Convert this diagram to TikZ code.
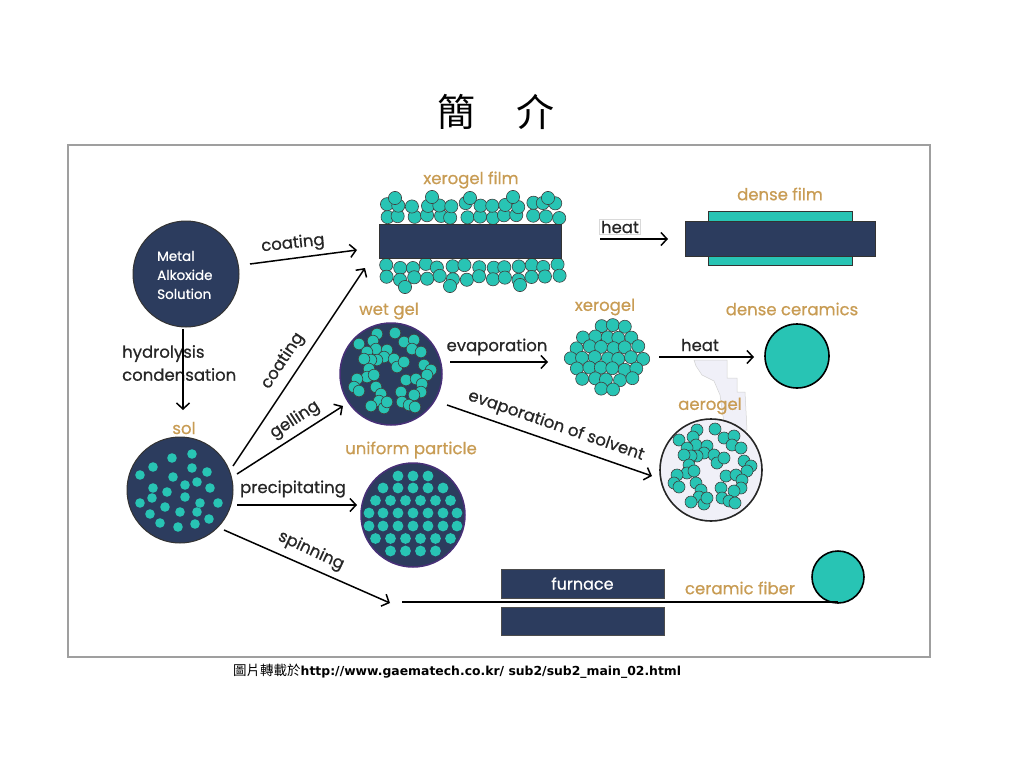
\documentclass[tikz,border=0pt]{standalone}
\usepackage{fontspec}
\setmainfont{Poppins}
\newfontfamily\geo{Poppins}[FakeBold=0.7]
\newfontfamily\cjk{Noto Sans CJK TC}
\newfontfamily\footfont{DejaVu Sans}
\usetikzlibrary{arrows.meta}
\definecolor{navy}{RGB}{44,60,94}
\definecolor{tealc}{RGB}{40,196,180}
\definecolor{labtan}{RGB}{200,156,84}
\definecolor{purp}{RGB}{72,48,120}
\definecolor{lav}{RGB}{240,240,248}
\tikzset{
  arr/.style={line width=1.5pt,-{Straight Barb[length=6pt,width=13pt,line width=1.5pt]}},
  lab/.style={font=\geo\fontsize{16.5}{16.5}\selectfont, text=black!85, inner sep=0pt},
  olab/.style={font=\geo\fontsize{16.5}{16.5}\selectfont, text=labtan, inner sep=0pt},
  pt/.style={fill=tealc, draw=black!75, line width=0.6pt},
  dot/.style={fill=tealc, draw=none},
  bigc/.style={circle, inner sep=0pt, line width=1pt},
}
\begin{document}
\begin{tikzpicture}[x=1pt,y=-1pt]
\useasboundingbox (0,0) rectangle (1024,768);
% title
\node[font=\cjk\fontsize{38}{38}\selectfont] (title) at (496,112) {簡\hspace{42pt}介};
% frame
\draw[gray!75, line width=1.5pt] (68,145) rectangle (930,657);

% ---------- metal alkoxide solution
\node[bigc, draw=black!80, fill=navy, minimum size=106pt] (metal) at (186,274) {};
\node[font=\geo\fontsize{13.5}{19}\selectfont, text=white, align=left, anchor=west, inner sep=0pt] (metaltxt) at (157,275) {Metal\\Alkoxide\\Solution};

% ---------- sol
\node[olab] (sollab) at (184,428) {sol};
\node[bigc, draw=black!80, fill=navy, minimum size=106pt] (sol) at (180,490) {};
\begin{scope}[shift={(180,490)}]
\foreach \a/\b in {-8/-32,12/-36,-40/-15,-27/-23,-7/-13,12/-22,27/-18,-27/-2,-13/2,5/-5,17/-8,30/-2,-40/13,-28/8,-15/17,5/7,20/13,38/13,-30/24,0/22,17/22,29/29,-20/33,-2/37,15/34}
  \fill[dot] (\a,\b) circle[radius=4.8pt];
\end{scope}

% ---------- xerogel film
\node[olab] (xflab) at (471,180) {xerogel film};
\pgfmathsetseed{11}
\foreach \i in {0,...,13} {
  \foreach \yy in {217,205,266,278} {
    \pgfmathsetmacro\px{386+\i*13.2+2.5*rand}
    \pgfmathsetmacro\py{\yy+2.5*rand}
    \draw[pt] (\px,\py) circle[radius=6.6pt];
  }
}
\foreach \a/\b in {432/197,470/198,513/197,548/198,395/198,450/286,405/287,520/285} \draw[pt] (\a,\b) circle[radius=6.6pt];
\node[draw=black!80, fill=navy, minimum width=182pt, minimum height=34pt, inner sep=0pt, line width=0.8pt] (sub) at (470,241) {};

% ---------- dense film
\node[olab] (dflab) at (780,194) {dense film};
\node[draw=black!80, fill=tealc, minimum width=144pt, minimum height=54pt, inner sep=0pt, line width=0.8pt] (dfteal) at (780,238) {};
\node[draw=black!80, fill=navy, minimum width=190pt, minimum height=35pt, inner sep=0pt, line width=0.8pt] (dfnavy) at (780,238.5) {};

% ---------- wet gel
\node[olab] (wglab) at (389,311) {wet gel};
\node[bigc, draw=purp, line width=1.5pt, fill=navy, minimum size=102pt] (wetgel) at (391,374) {};
\begin{scope}[shift={(391,374)}]
\foreach \a/\b in {-14/-40,4/-41,-32/-30,-18/-33,-15/-25,13/-32,23/-34,21/-25,30/-22,-24/-22,-4/-24,-7/-17,-14/-14,-20/-14,-27/-15,3/-15,6/-7,13/-12,33/-9,40/-4,36/1,-22/-5,-24/3,-17/1,-34/5,-37/13,-32/17,-15/13,-10/20,-12/27,15/6,25/5,31/10,30/18,23/21,10/18,11/28,18/31,24/33,-20/32,-7/34,-4/28}
  \draw[pt] (\a,\b) circle[radius=5.8pt];
\end{scope}

% ---------- xerogel
\node[olab] (xglab) at (605,307) {xerogel};
\begin{scope}[shift={(607,358)}]
\pgfmathsetseed{5}
\foreach \r in {-4,...,4} {
  \foreach \c in {-4,...,4} {
    \pgfmathsetmacro\px{(\c+0.5*abs(mod(\r,2)))*12.2+1.2*rand}
    \pgfmathsetmacro\py{\r*10.6+1.2*rand}
    \pgfmathtruncatemacro\ok{veclen(\px,\py)<36.5 ? 1 : 0}
    \ifnum\ok=1 \draw[pt] (\px,\py) circle[radius=6.5pt]; \fi
  }
}
\end{scope}

% ---------- dense ceramics
\node[olab] (dclab) at (792,309) {dense ceramics};
\node[bigc, draw=black, line width=1.6pt, fill=tealc, minimum size=64pt] (dense) at (797,356) {};

% ---------- aerogel
\fill[lav, draw=gray!35, line width=0.5pt] (694,360) -- (727,360) -- (727,378) -- (737,378) -- (737,392) -- (745,392) -- (747,430) -- (725,430) -- (720,395) -- (714,381) -- (702,375) -- (696,366) -- cycle;
\node[olab] (aglab) at (710,406) {aerogel};
\node[bigc, draw=black!85, line width=1.6pt, fill=lav, minimum size=102pt] (aerogel) at (711,470) {};
\begin{scope}[shift={(711,470)}]
\foreach \a/\b in {-14/-40,4/-41,-32/-30,-18/-33,-15/-25,13/-32,23/-34,21/-25,30/-22,-24/-22,-4/-24,-7/-17,-14/-14,-20/-14,-27/-15,3/-15,6/-7,13/-12,33/-9,40/-4,36/1,-22/-5,-24/3,-17/1,-34/5,-37/13,-32/17,-15/13,-10/20,-12/27,15/6,25/5,31/10,30/18,23/21,10/18,11/28,18/31,24/33,-20/32,-7/34,-4/28}
  \draw[pt] (\a,\b) circle[radius=6pt];
\end{scope}

% ---------- uniform particle
\node[olab] (uplab) at (411,450) {uniform particle};
\node[bigc, draw=purp, line width=1.5pt, fill=navy, minimum size=104pt] (uniform) at (413,515) {};
\begin{scope}[shift={(413,515)}]
\foreach \a in {-15,0,15} \fill[dot] (\a,-39) circle[radius=5.4pt];
\foreach \a in {-30,-15,0,15,30} \fill[dot] (\a,-27) circle[radius=5.4pt];
\foreach \a in {-37.5,-22.5,-7.5,7.5,22.5,37.5} \fill[dot] (\a,-14.5) circle[radius=5.4pt];
\foreach \a in {-44,-30,-15,0,15,30,44} \fill[dot] (\a,-2) circle[radius=5.4pt];
\foreach \a in {-44,-30,-15,0,15,30,44} \fill[dot] (\a,11) circle[radius=5.4pt];
\foreach \a in {-37.5,-22.5,-7.5,7.5,22.5,37.5} \fill[dot] (\a,23.5) circle[radius=5.4pt];
\foreach \a in {-22.5,-7.5,7.5,22.5} \fill[dot] (\a,36) circle[radius=5.4pt];
\end{scope}

% ---------- furnace and fiber
\node[draw=black!70, fill=navy, minimum width=163pt, minimum height=29pt, inner sep=0pt, line width=0.8pt, font=\geo\fontsize{16}{16}\selectfont, text=white] (furn1) at (582.5,583.5) {furnace};
\node[draw=black!70, fill=navy, minimum width=163pt, minimum height=28pt, inner sep=0pt, line width=0.8pt] (furn2) at (582.5,621) {};
\node[olab] (cflab) at (740,588) {ceramic fiber};
\node[bigc, draw=black, line width=1.6pt, fill=tealc, minimum size=52pt] (fiber) at (838,577) {};
\coordinate (fstart) at (402,602);
\coordinate (fend) at (838,602);
\draw[line width=2pt] (fstart) -- (fend);

% ---------- arrows
\coordinate (c1s) at (250,264); \coordinate (c1e) at (357,250);
\draw[arr] (c1s) -- (c1e);
\node[lab, rotate=6] (l1) at (293,244) {coating};

\coordinate (h1s) at (183,329); \coordinate (h1e) at (183,410);
\node[lab, anchor=west, align=left, font=\geo\fontsize{16.5}{23}\selectfont] (l2) at (122,363) {hydrolysis\\condensation};
\draw[arr] (h1s) -- (h1e);

\coordinate (c2s) at (233,466); \coordinate (c2e) at (365,268);
\draw[arr] (c2s) -- (c2e);
\node[lab, rotate=56.5] (l3) at (283,361) {coating};

\coordinate (g1s) at (237,474); \coordinate (g1e) at (343,406);
\draw[arr] (g1s) -- (g1e);
\node[lab, rotate=33] (l4) at (295,420) {gelling};

\coordinate (p1s) at (237,505); \coordinate (p1e) at (357,505);
\draw[arr] (p1s) -- (p1e);
\node[lab] (l5) at (293,489) {precipitating};

\coordinate (s1s) at (224,530); \coordinate (s1e) at (390,603);
\draw[arr] (s1s) -- (s1e);
\node[lab, rotate=-25] (l6) at (311,551) {spinning};

\coordinate (t1s) at (600,239); \coordinate (t1e) at (668,239);
\draw[arr] (t1s) -- (t1e);
\node[lab, fill=white, draw=gray!30, line width=0.5pt, inner sep=1.5pt] (l7) at (620,227) {heat};

\coordinate (e1s) at (450,362); \coordinate (e1e) at (548,362);
\draw[arr] (e1s) -- (e1e);
\node[lab] (l8) at (497,347) {evaporation};

\coordinate (t2s) at (659,357); \coordinate (t2e) at (754,357);
\draw[arr] (t2s) -- (t2e);
\node[lab] (l9) at (700,345) {heat};

\coordinate (e2s) at (447,405); \coordinate (e2e) at (652,476);
\draw[arr] (e2s) -- (e2e);
\node[lab, rotate=-19] (l10) at (556,426) {evaporation of solvent};

% ---------- footer
\node[anchor=west, inner sep=0pt] (foot) at (233,671) {{\cjk\fontsize{13.5}{13.5}\selectfont 圖片轉載於}{\footfont\bfseries\fontsize{12.4}{13}\selectfont http://www.gaematech.co.kr/ sub2/sub2\_main\_02.html}};
\end{tikzpicture}
\end{document}
